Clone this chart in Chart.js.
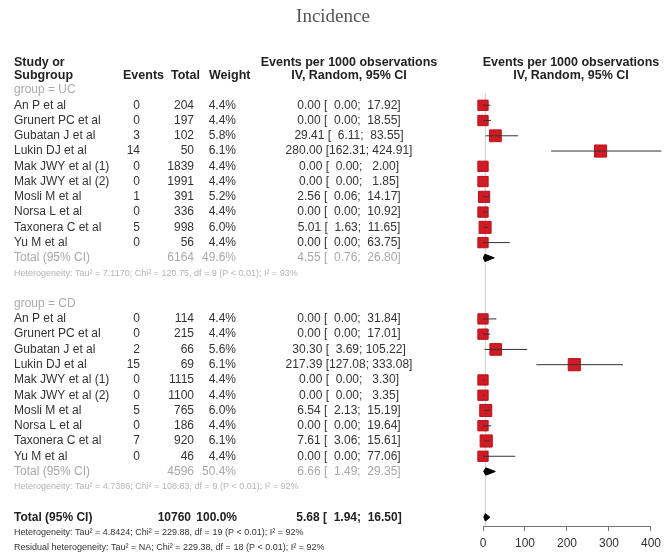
<!DOCTYPE html>
<html>
<head>
<meta charset="utf-8">
<script src="https://cdn.jsdelivr.net/npm/chart.js@4.4.1/dist/chart.umd.min.js"></script>
<style>
  html, body { margin: 0; padding: 0; background: #fff; }
</style>
</head>
<body>
<canvas id="forest" width="666" height="558"></canvas>
<script>
// Subgroup UC
var ucStudies = ['An P et al', 'Grunert PC et al', 'Gubatan J et al', 'Lukin DJ et al', 'Mak JWY et al (1)',
                 'Mak JWY et al (2)', 'Mosli M et al', 'Norsa L et al', 'Taxonera C et al', 'Yu M et al'];
var ucEvents = [0, 0, 3, 14, 0, 0, 1, 0, 5, 0];
var ucTotal = [204, 197, 102, 50, 1839, 1991, 391, 336, 998, 56];
var ucWeight = [4.4, 4.4, 5.8, 6.1, 4.4, 4.4, 5.2, 4.4, 6.0, 4.4];
var ucEst = [0, 0, 29.41, 280.00, 0, 0, 2.56, 0, 5.01, 0];
var ucLower = [0, 0, 6.11, 162.31, 0, 0, 0.06, 0, 1.63, 0];
var ucUpper = [17.92, 18.55, 83.55, 424.91, 2.00, 1.85, 14.17, 10.92, 11.65, 63.75];
var ucPooled = [6164, 49.6, 4.55, 0.76, 26.80]; // total, weight, est, lower, upper
var ucHet = 'Heterogeneity: Tau\u00b2 = 7.1170; Chi\u00b2 = 120.75, df = 9 (P < 0.01); I\u00b2 = 93%';

// Subgroup CD
var cdStudies = ['An P et al', 'Grunert PC et al', 'Gubatan J et al', 'Lukin DJ et al', 'Mak JWY et al (1)',
                 'Mak JWY et al (2)', 'Mosli M et al', 'Norsa L et al', 'Taxonera C et al', 'Yu M et al'];
var cdEvents = [0, 0, 2, 15, 0, 0, 5, 0, 7, 0];
var cdTotal = [114, 215, 66, 69, 1115, 1100, 765, 186, 920, 46];
var cdWeight = [4.4, 4.4, 5.6, 6.1, 4.4, 4.4, 6.0, 4.4, 6.1, 4.4];
var cdEst = [0, 0, 30.30, 217.39, 0, 0, 6.54, 0, 7.61, 0];
var cdLower = [0, 0, 3.69, 127.08, 0, 0, 2.13, 0, 3.06, 0];
var cdUpper = [31.84, 17.01, 105.22, 333.08, 3.30, 3.35, 15.19, 19.64, 15.61, 77.06];
var cdPooled = [4596, 50.4, 6.66, 1.49, 29.35];
var cdHet = 'Heterogeneity: Tau\u00b2 = 4.7386; Chi\u00b2 = 108.83, df = 9 (P < 0.01); I\u00b2 = 92%';

// Overall
var allPooled = [10760, 100.0, 5.68, 1.94, 16.50];
var allHet = 'Heterogeneity: Tau\u00b2 = 4.8424; Chi\u00b2 = 229.88, df = 19 (P < 0.01); I\u00b2 = 92%';
var residHet = 'Residual heterogeneity: Tau\u00b2 = NA; Chi\u00b2 = 229.38, df = 18 (P < 0.01); I\u00b2 = 92%';

var xTicks = [0, 100, 200, 300, 400];

// row layout (row index -> y value on the hidden y scale)
var ucStart = 1, cdStart = 15;
var ucTotalRow = 11, cdTotalRow = 25, allRow = 28;

var FONT = '"Liberation Sans", Arial, sans-serif';
var RED = 'rgb(208, 26, 36)';
var BODY = 12, HEAD = 12.5, SMALL = 9;

function pad(s, n) {
    s = String(s);
    while (s.length < n) s = ' ' + s;
    return s;
}
function ciText(est, lo, hi) {
    return est.toFixed(2) + ' [' + pad(lo.toFixed(2), 6) + '; ' + pad(hi.toFixed(2), 6) + ']';
}

// build marks
var squares = [], ciLines = [];
function addGroup(start, est, lo, hi, w) {
    est.forEach(function(e, i) {
        var r = start + i;
        squares.push({ x: e, y: r, w: w[i] });
        ciLines.push({ x: lo[i], y: r }, { x: hi[i], y: r }, { x: NaN, y: NaN });
    });
}
addGroup(ucStart, ucEst, ucLower, ucUpper, ucWeight);
addGroup(cdStart, cdEst, cdLower, cdUpper, cdWeight);

function diamond(p, row) {
    var h = 0.24;
    return [
        { x: p[3], y: row }, { x: p[2], y: row - h }, { x: p[4], y: row },
        { x: p[2], y: row + h }, { x: p[3], y: row }
    ];
}
function diamondSet(p, row) {
    return {
        data: diamond(p, row), showLine: true, pointRadius: 0,
        borderColor: '#000', borderWidth: 1, backgroundColor: '#000',
        fill: 'shape', clip: false, order: 0
    };
}

var tablePlugin = {
    id: 'tableText',
    afterDraw: function(chart) {
        var ctx = chart.ctx, ys = chart.scales.y;
        function txt(s, x, row, align, color, size, bold) {
            ctx.font = (bold ? 'bold ' : '') + size + 'px ' + FONT;
            ctx.fillStyle = color;
            ctx.textAlign = align;
            ctx.textBaseline = 'middle';
            ctx.fillText(s, x, typeof row === 'number' ? ys.getPixelForValue(row) : row.px);
        }
        ctx.save();
        // title
        ctx.font = '19px "Liberation Serif", "DejaVu Serif", serif';
        ctx.fillStyle = '#555';
        ctx.textAlign = 'center';
        ctx.textBaseline = 'middle';
        ctx.fillText('Incidence', 333, 17);

        // headers
        var h1 = { px: 63 }, h2 = { px: 76 };
        txt('Study or', 14, h1, 'left', '#222', HEAD, true);
        txt('Subgroup', 14, h2, 'left', '#222', HEAD, true);
        txt('Events', 123, h2, 'left', '#222', HEAD, true);
        txt('Total', 171, h2, 'left', '#222', HEAD, true);
        txt('Weight', 209, h2, 'left', '#222', HEAD, true);
        txt('Events per 1000 observations', 349, h1, 'center', '#222', HEAD, true);
        txt('IV, Random, 95% CI', 349, h2, 'center', '#222', HEAD, true);
        txt('Events per 1000 observations', 571, h1, 'center', '#222', HEAD, true);
        txt('IV, Random, 95% CI', 571, h2, 'center', '#222', HEAD, true);

        function group(label, labelRow, start, names, ev, tot, w, est, lo, hi, pooled, het) {
            txt(label, 14, labelRow, 'left', '#aaa', BODY, false);
            names.forEach(function(n, i) {
                var r = start + i;
                txt(n, 14, r, 'left', '#333', BODY, false);
                txt(String(ev[i]), 140, r, 'right', '#333', BODY, false);
                txt(String(tot[i]), 194, r, 'right', '#333', BODY, false);
                txt(w[i].toFixed(1) + '%', 236, r, 'right', '#333', BODY, false);
                txt(ciText(est[i], lo[i], hi[i]), 349, r, 'center', '#333', BODY, false);
            });
            var tr = start + names.length;
            txt('Total (95% CI)', 14, tr, 'left', '#a8a8a8', BODY, false);
            txt(String(pooled[0]), 194, tr, 'right', '#a8a8a8', BODY, false);
            txt(pooled[1].toFixed(1) + '%', 236, tr, 'right', '#a8a8a8', BODY, false);
            txt(ciText(pooled[2], pooled[3], pooled[4]), 349, tr, 'center', '#a8a8a8', BODY, false);
            txt(het, 14, tr + 1, 'left', '#b4b4b4', SMALL, false);
        }
        group('group = UC', 0, ucStart, ucStudies, ucEvents, ucTotal, ucWeight, ucEst, ucLower, ucUpper, ucPooled, ucHet);
        group('group = CD', 14, cdStart, cdStudies, cdEvents, cdTotal, cdWeight, cdEst, cdLower, cdUpper, cdPooled, cdHet);

        txt('Total (95% CI)', 14, allRow, 'left', '#222', BODY, true);
        txt(String(allPooled[0]), 191, allRow, 'right', '#222', BODY, true);
        txt(allPooled[1].toFixed(1) + '%', 237, allRow, 'right', '#222', BODY, true);
        txt(ciText(allPooled[2], allPooled[3], allPooled[4]), 349, allRow, 'center', '#222', BODY, true);
        txt(allHet, 14, allRow + 1, 'left', '#333', SMALL, false);
        txt(residHet, 14, allRow + 2, 'left', '#333', SMALL, false);
        ctx.restore();
    }
};

var ctx = document.getElementById('forest').getContext('2d');
var forest = new Chart(ctx, {
    type: 'scatter',
    data: {
        datasets: [
            {   // vertical line at the overall estimate
                data: [{ x: allPooled[2], y: 0.2 }, { x: allPooled[2], y: 28.57 }],
                showLine: true, pointRadius: 0, borderColor: '#d8d8d8', borderWidth: 1, order: 5
            },
            {
                data: squares,
                pointStyle: 'rect',
                pointRadius: function(c) {
                    var w = c.raw ? c.raw.w : 4.4;
                    return 10.3 * Math.sqrt(w / 4.4) / Math.SQRT2;
                },
                backgroundColor: RED, borderColor: 'rgb(185, 18, 28)', borderWidth: 1,
                clip: false, order: 3
            },
            {
                data: ciLines, showLine: true, spanGaps: false, pointRadius: 0,
                borderColor: '#333', borderWidth: 1, clip: false, order: 1
            },
            diamondSet(ucPooled, ucTotalRow),
            diamondSet(cdPooled, cdTotalRow),
            diamondSet(allPooled, allRow)
        ]
    },
    options: {
        responsive: false,
        animation: false,
        devicePixelRatio: 1,
        events: [],
        layout: { padding: { left: 483, right: 13, top: 90, bottom: 0 } },
        plugins: { legend: { display: false }, tooltip: { enabled: false } },
        scales: {
            x: {
                type: 'linear', min: 0, max: 400,
                afterBuildTicks: function(s) { s.ticks = xTicks.map(function(v) { return { value: v }; }); },
                afterFit: function(s) { s.height = 32; },
                grid: { drawOnChartArea: false, drawTicks: true, tickLength: 5, color: '#777' },
                border: { display: true, color: '#777' },
                ticks: { padding: 5, color: '#333', font: { family: FONT, size: 12 }, maxRotation: 0 }
            },
            y: {
                type: 'linear', reverse: true, min: 0, max: 28.57, display: false
            }
        }
    },
    plugins: [tablePlugin]
});
</script>
</body>
</html>
